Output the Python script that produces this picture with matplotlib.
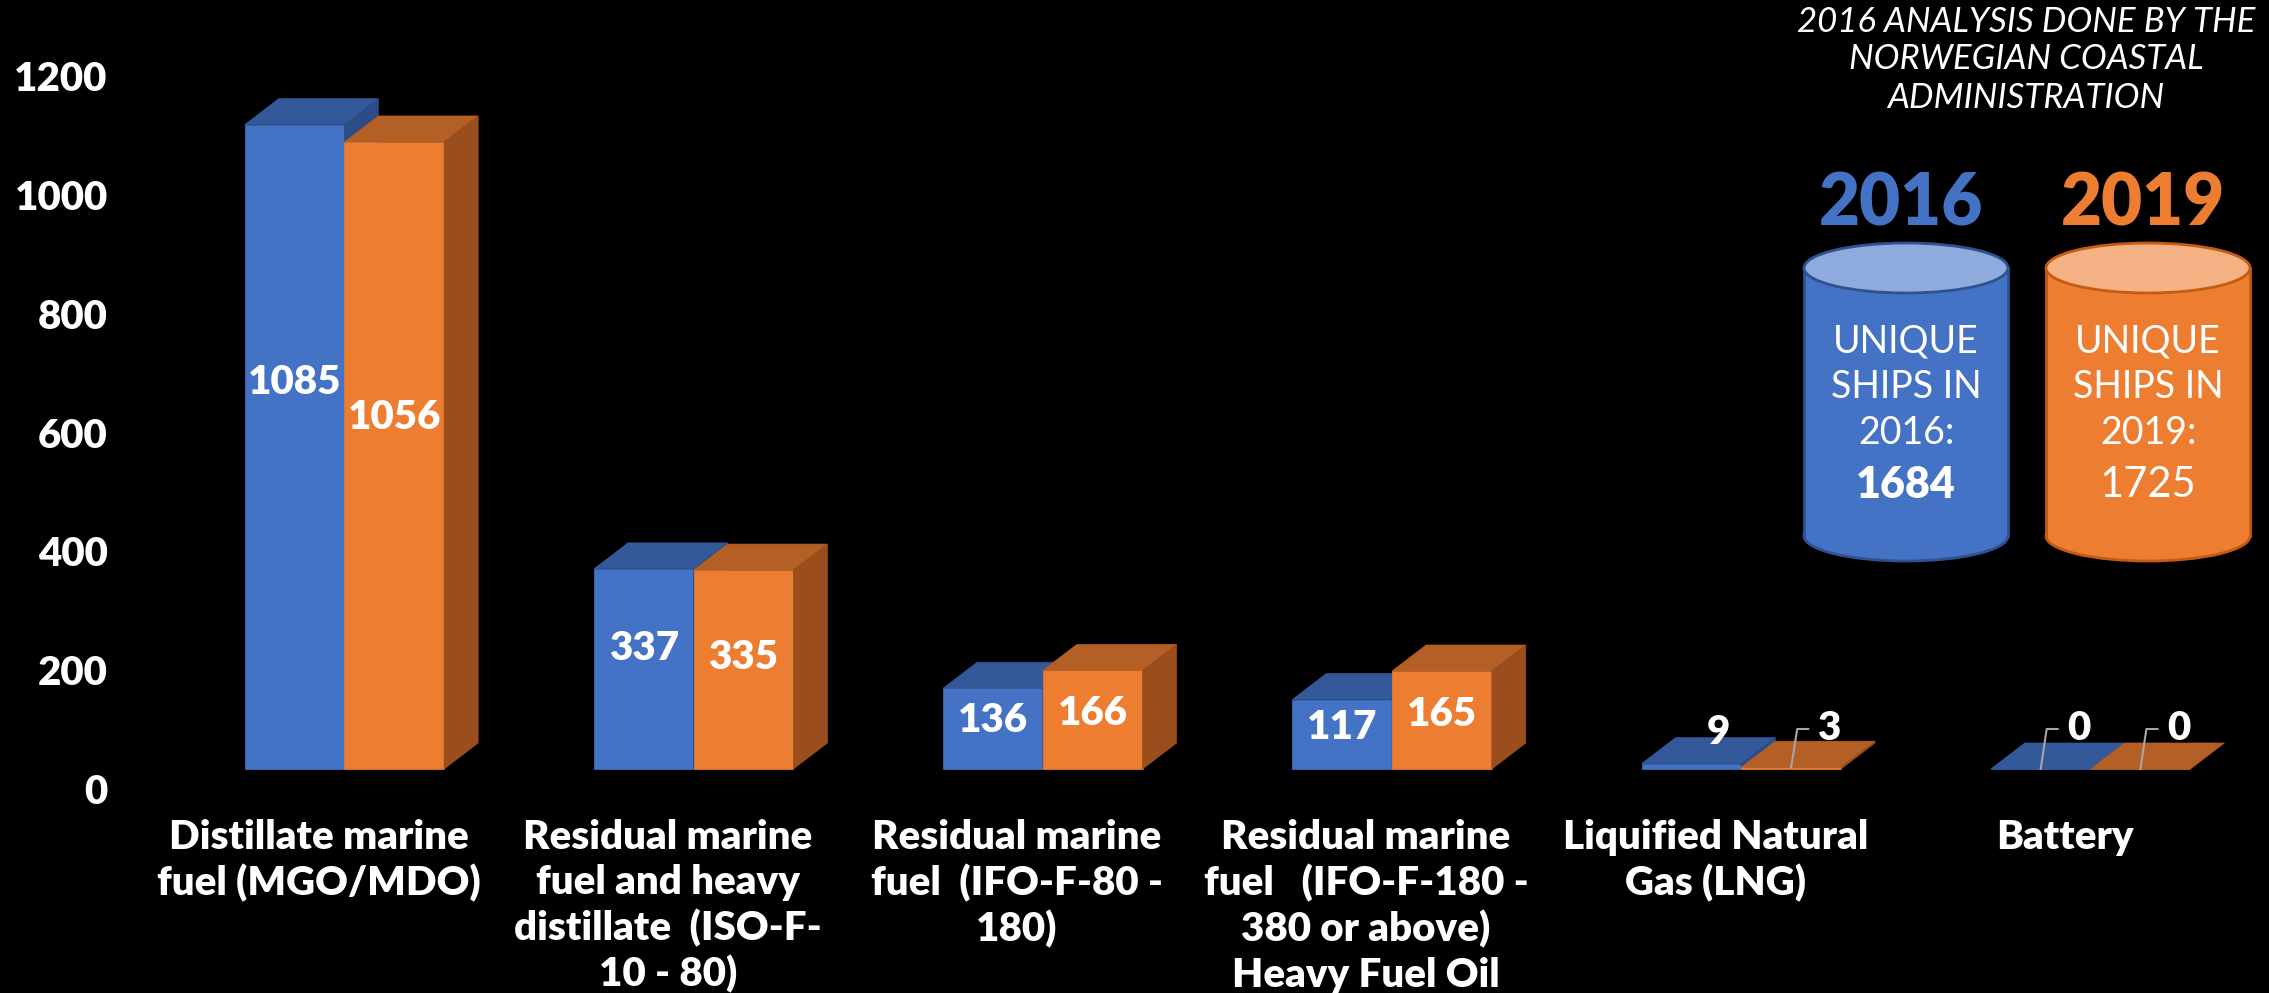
import matplotlib.pyplot as plt
from matplotlib.patches import Polygon, Rectangle, Ellipse
from matplotlib.transforms import ScaledTranslation

# ships per fuel type, 2016 vs 2019
categorias = [
    "Distillate marine\nfuel (MGO/MDO)",
    "Residual marine\nfuel and heavy\ndistillate  (ISO-F-\n10 - 80)",
    "Residual marine\nfuel  (IFO-F-80 -\n180)",
    "Residual marine\nfuel   (IFO-F-180 -\n380 or above)\nHeavy Fuel Oil",
    "Liquified Natural\nGas (LNG)",
    "Battery",
]
barcos_2016 = [1085, 337, 136, 117, 9, 0]
barcos_2019 = [1056, 335, 166, 165, 3, 0]
ticks_y = [0, 200, 400, 600, 800, 1000, 1200]

unicos_2016 = 1684
unicos_2019 = 1725

# colores: frente, tapa, lado
azul = ('#4472C4', '#34599A', '#2C4C85')
naranja = ('#ED7D31', '#B45F25', '#9A4E1D')

plt.rcParams['font.family'] = ['Lato', 'DejaVu Sans']
NUM = dict(color='white', fontsize=29, fontweight='heavy')

W, H = 2269, 993
fig = plt.figure(figsize=(W / 100, H / 100), dpi=100, facecolor='black')

# zona del grafico en pixeles
izq, base = 130, 769
ax = fig.add_axes([izq / W, (H - base) / H, 1 - izq / W, (base - 3) / H])
ax.set_facecolor('black')
ax.set_xlim(-0.614, 5.511)
ax.set_ylim(0, 1290)
for s in ax.spines.values():
    s.set_visible(False)

# pixel -> unidades de datos
bb = ax.get_window_extent()
sx = (5.511 + 0.614) / bb.width
sy = 1290 / bb.height
dx, dy = 34 * sx, 26 * sy     # profundidad 3D
w = 0.2855                     # ancho de cada barra


def caja(x0, alto, col, z):
    frente, tapa, lado = col
    ax.add_patch(Rectangle((x0, 0), w, alto, fc=frente, ec=frente, lw=0.5, zorder=z, clip_on=False))
    ax.add_patch(Polygon([(x0, alto), (x0 + w, alto), (x0 + w + dx, alto + dy), (x0 + dx, alto + dy)],
                         closed=True, fc=tapa, ec=tapa, lw=0.5, zorder=z, clip_on=False))
    ax.add_patch(Polygon([(x0 + w, 0), (x0 + w + dx, dy), (x0 + w + dx, alto + dy), (x0 + w, alto)],
                         closed=True, fc=lado, ec=lado, lw=0.5, zorder=z, clip_on=False))


def guia(xc, valor, texto, z):
    # linea gris desde la barra hasta la etiqueta
    x1, y1 = xc + 6 * sx, 40 * sy
    x2 = x1 + 11 * sx
    ax.plot([xc, x1, x2], [valor, y1, y1], color='#A6A6A6', lw=1.5, zorder=z, clip_on=False)
    ax.text(x2 + 21 * sx, y1, texto, ha='center', va='center', zorder=z, clip_on=False, **NUM)


for i in range(len(categorias)):
    caja(i - w, barcos_2016[i], azul, 3 + 2 * i)
    caja(i, barcos_2019[i], naranja, 4 + 2 * i)

    for x0, v, f in [(i - w, barcos_2016[i], 0.6), (i, barcos_2019[i], 0.56)]:
        if v >= 50:
            ax.text(x0 + w / 2, v * f, str(v), ha='center', va='center', zorder=20, **NUM)

# etiquetas pequenas (LNG y Battery)
ax.text(4 - 23 * sx, 37 * sy, str(barcos_2016[4]), ha='center', va='center', zorder=20, **NUM)
guia(4 + w / 2, barcos_2019[4], str(barcos_2019[4]), 20)
guia(5 - w / 2, barcos_2016[5], str(barcos_2016[5]), 20)
guia(5 + w / 2, barcos_2019[5], str(barcos_2019[5]), 20)

# ejes
ax.set_yticks(ticks_y)
ax.set_yticklabels([str(t) for t in ticks_y], **NUM)
ax.tick_params(axis='y', length=0, pad=16)
bajar = ScaledTranslation(0, -0.2, fig.dpi_scale_trans)
for lab in ax.get_yticklabels():
    lab.set_transform(lab.get_transform() + bajar)

ax.set_xticks([i - 26 * sx for i in range(len(categorias))])
ax.set_xticklabels(categorias, color='white', fontsize=29, fontweight='heavy', linespacing=1.26)
ax.tick_params(axis='x', length=0, pad=36)

# capa superior en pixeles para el texto y los cilindros
capa = fig.add_axes([0, 0, 1, 1])
capa.set_xlim(0, W)
capa.set_ylim(H, 0)
capa.axis('off')
capa.patch.set_alpha(0)

for y, t in [(22, "2016 ANALYSIS DONE BY THE"), (59, "NORWEGIAN COASTAL"), (98, "ADMINISTRATION")]:
    capa.text(2026, y, t, color='white', fontsize=25, style='italic', ha='center', va='center')


def cilindro(xc, col, borde, claro, anio, lineas):
    ancho, y_top, y_bot, alto_e = 204, 268, 536, 50
    capa.add_patch(Ellipse((xc, y_bot), ancho, alto_e, fc=col, ec=borde, lw=2, zorder=2))
    capa.add_patch(Rectangle((xc - ancho / 2, y_top), ancho, y_bot - y_top, fc=col, ec='none', zorder=3))
    capa.plot([xc - ancho / 2, xc - ancho / 2], [y_top, y_bot], color=borde, lw=2, zorder=4)
    capa.plot([xc + ancho / 2, xc + ancho / 2], [y_top, y_bot], color=borde, lw=2, zorder=4)
    capa.add_patch(Ellipse((xc, y_top), ancho, alto_e, fc=claro, ec=borde, lw=2, zorder=5))
    capa.text(xc - 5, 204, anio, color=col, fontsize=51, fontweight='heavy', ha='center', va='center')
    for y, (t, peso, tam) in zip([341, 387, 433, 485], lineas):
        capa.text(xc, y, t, color='white', fontsize=tam, fontweight=peso, ha='center', va='center', zorder=6)


cilindro(1906, azul[0], '#2F528F', '#8FAADC', "2016",
         [("UNIQUE", 'normal', 27), ("SHIPS IN", 'normal', 27), ("2016:", 'normal', 27),
          (str(unicos_2016), 'heavy', 31)])
cilindro(2148, naranja[0], '#C55A11', '#F4B183', "2019",
         [("UNIQUE", 'normal', 27), ("SHIPS IN", 'normal', 27), ("2019:", 'normal', 27),
          (str(unicos_2019), 'normal', 30)])

fig.savefig('out.png', dpi=100, facecolor='black')
